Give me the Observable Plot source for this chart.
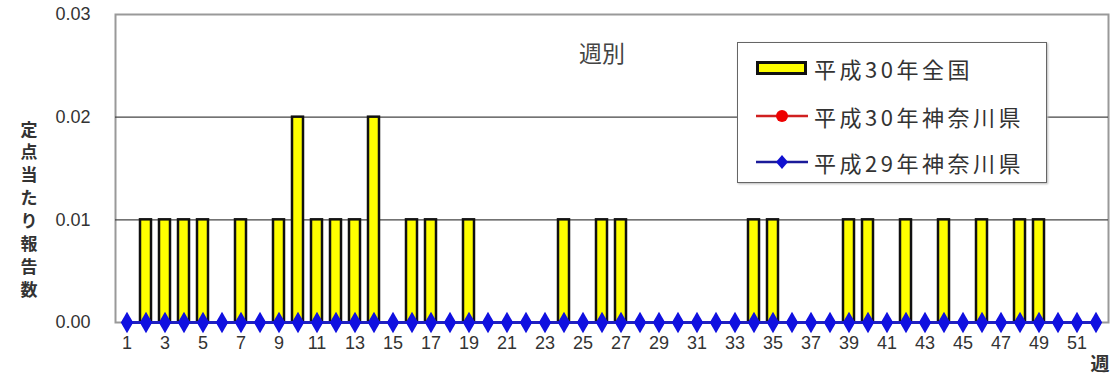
<!DOCTYPE html>
<html>
<head>
<meta charset="utf-8">
<script src="https://cdn.jsdelivr.net/npm/d3@7"></script>
<script src="https://cdn.jsdelivr.net/npm/@observablehq/plot@0.6"></script>
<style>
  html, body { margin: 0; padding: 0; background: #fff; }
  #wrap { position: relative; width: 1115px; height: 383px; overflow: hidden; }
  #legend {
    position: absolute; left: 737px; top: 42px; width: 308px; height: 139px;
    background: #fff; border: 1.5px solid #666; box-shadow: 1px 1px 2px #bbb;
    font-family: "Noto Sans CJK JP", sans-serif; font-size: 22px; color: #333;
    letter-spacing: 3.5px;
  }
  .row { position: absolute; left: 18px; display: flex; align-items: center; height: 32px; }
  .row svg { margin-right: 6px; }
</style>
</head>
<body>
<div id="wrap"></div>
<script>
const weeks = [1,2,3,4,5,6,7,8,9,10,11,12,13,14,15,16,17,18,19,20,21,22,23,24,25,26,
  27,28,29,30,31,32,33,34,35,36,37,38,39,40,41,42,43,44,45,46,47,48,49,50,51,52];
const national30 = [0,0.01,0.01,0.01,0.01,0,0.01,0,0.01,0.02,0.01,0.01,0.01,0.02,0,0.01,0.01,0,0.01,0,
  0,0,0,0.01,0,0.01,0.01,0,0,0,0,0,0,0.01,0.01,0,0,0,0.01,0.01,0,0.01,0,0.01,0,0.01,0,0.01,0.01,0,0,0];
const kanagawa30 = [0,0,0,0,0,0,0,0,0,0,0,0,0,0,0,0,0,0,0,0,0,0,0,0,0,0,
  0,0,0,0,0,0,0,0,0,0,0,0,0,0,0,0,0,0,0,0,0,0,0,0,0,0];
const kanagawa29 = [0,0,0,0,0,0,0,0,0,0,0,0,0,0,0,0,0,0,0,0,0,0,0,0,0,0,
  0,0,0,0,0,0,0,0,0,0,0,0,0,0,0,0,0,0,0,0,0,0,0,0,0,0];
const yTicks = [0, 0.01, 0.02, 0.03];
const xTicks = [1,3,5,7,9,11,13,15,17,19,21,23,25,27,29,31,33,35,37,39,41,43,45,47,49,51];
const seriesNames = ["平成30年全国", "平成30年神奈川県", "平成29年神奈川県"];
const yLabel = "定点当たり報告数";
const subTitle = "週別";
const xUnit = "週";

const natData = weeks.map((w, i) => ({week: w, value: national30[i]}));
const k30Data = weeks.map((w, i) => ({week: w, value: kanagawa30[i]}));
const k29Data = weeks.map((w, i) => ({week: w, value: kanagawa29[i]}));

const numFont = '"Liberation Sans Narrow", "Liberation Sans", sans-serif';
const jpFont = '"Noto Sans CJK JP", sans-serif';

const chart = Plot.plot({
  width: 1115,
  height: 383,
  marginLeft: 115,
  marginRight: 7,
  marginTop: 14,
  marginBottom: 61,
  style: {background: "#fff", fontFamily: numFont},
  x: {type: "band", domain: weeks, paddingInner: 0.4, paddingOuter: 0.2, label: null},
  y: {domain: [0, 0.03], label: null},
  marks: [
    Plot.frame({stroke: "#999", strokeWidth: 2}),
    Plot.ruleY([0.01, 0.02], {stroke: "#444", strokeWidth: 1.2}),
    Plot.barY(natData, {x: "week", y: "value", fill: "#ffff00", stroke: "#111", strokeWidth: 2.5}),
    Plot.line(k30Data, {x: "week", y: "value", stroke: "#e01010", strokeWidth: 2.5}),
    Plot.dot(k30Data, {x: "week", y: "value", fill: "#ee0000", r: 5, symbol: "circle"}),
    Plot.line(k29Data, {x: "week", y: "value", stroke: "#2020c0", strokeWidth: 3}),
    Plot.dot(k29Data, {x: "week", y: "value", fill: "#1010e0", r: 6.5, symbol: "diamond"}),
    Plot.axisY(yTicks, {tickSize: 0, tickPadding: 25, fontSize: 18, fill: "#333", label: null,
      tickFormat: d => d.toFixed(2)}),
    Plot.axisX(xTicks, {tickSize: 0, tickPadding: 14, fontSize: 18, fill: "#333", label: null}),
    Plot.text([subTitle], {frameAnchor: "top", dx: -10, dy: 31, fontSize: 23, fill: "#444",
      fontFamily: jpFont}),
    Plot.text([yLabel.split("").join("\n")], {frameAnchor: "left", dx: -95, dy: 40, fontSize: 17,
      fontWeight: "bold", lineHeight: 1.35, fill: "#333", fontFamily: jpFont}),
    Plot.text([xUnit], {frameAnchor: "bottom-right", dx: 1, dy: 48, fontSize: 19,
      fontWeight: "bold", fill: "#333", fontFamily: jpFont})
  ]
});

const wrap = document.getElementById("wrap");
wrap.appendChild(chart);

const legend = document.createElement("div");
legend.id = "legend";
const swatches = [
  `<svg width="52" height="16"><rect x="1.5" y="2.5" width="48" height="11" fill="#ffff00" stroke="#111" stroke-width="3"/></svg>`,
  `<svg width="52" height="16"><line x1="0" y1="8" x2="52" y2="8" stroke="#d02020" stroke-width="2.5"/><circle cx="26" cy="8" r="6" fill="#ee0000"/></svg>`,
  `<svg width="52" height="16"><line x1="0" y1="8" x2="52" y2="8" stroke="#1a1a99" stroke-width="2.5"/><path d="M26,1 L32,8 L26,15 L20,8Z" fill="#1010d0"/></svg>`
];
const tops = [9, 57, 103];
seriesNames.forEach((name, i) => {
  const row = document.createElement("div");
  row.className = "row";
  row.style.top = tops[i] + "px";
  row.innerHTML = swatches[i] + `<span>${name}</span>`;
  legend.appendChild(row);
});
wrap.appendChild(legend);
</script>
</body>
</html>
